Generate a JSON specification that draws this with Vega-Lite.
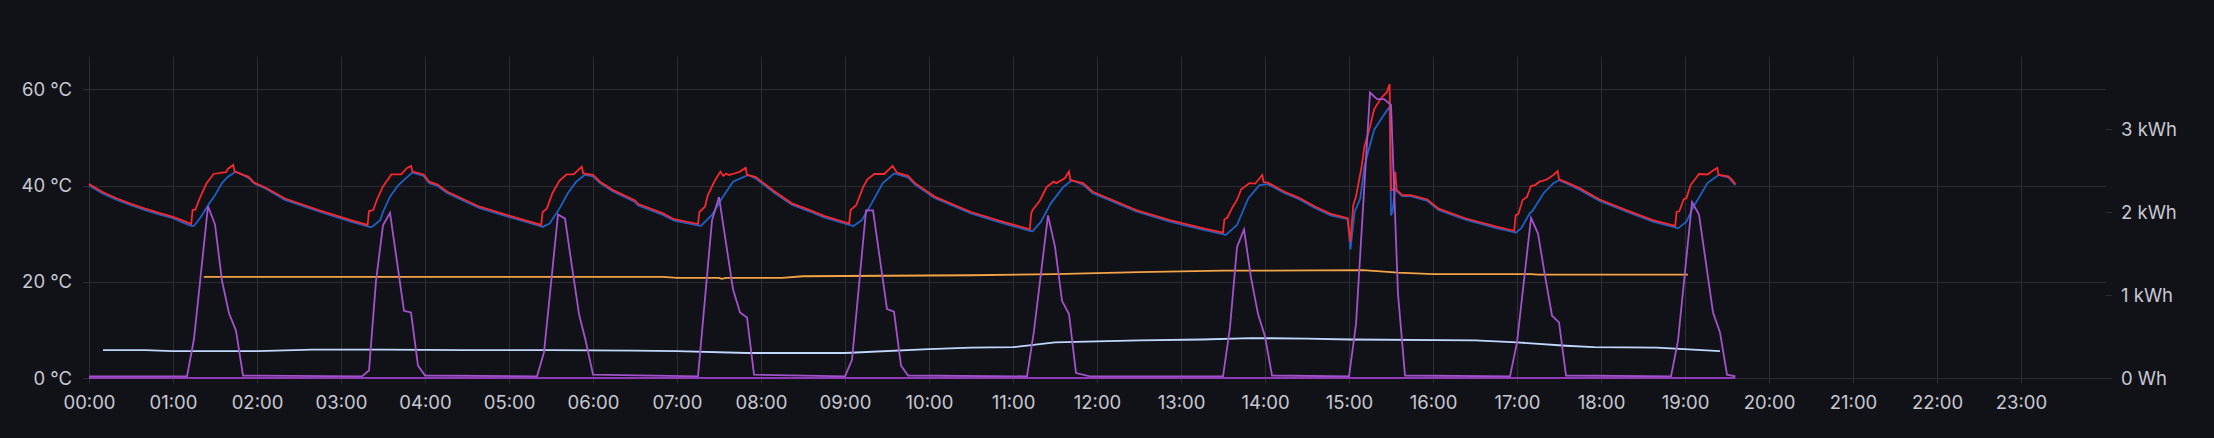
{
  "$schema": "https://vega.github.io/schema/vega-lite/v6.json",
  "width": 2016,
  "height": 322,
  "autosize": {"type": "none"},
  "padding": {"left": 89, "top": 56, "right": 109, "bottom": 60},
  "background": "#111217",
  "config": {
    "view": {"stroke": null},
    "axis": {
      "domain": false,
      "gridColor": "#2b2c31",
      "gridWidth": 1,
      "tickColor": "#2b2c31",
      "labelColor": "#c7c8d3",
      "labelFont": "Inter",
      "labelFontSize": 18.5
    },
    "axisX": {"tickSize": 5, "labelPadding": 10, "labelAngle": 0, "labelFlush": false, "labelOverlap": false, "grid": true},
    "axisLeft": {"tickSize": 6.5, "labelPadding": 11},
    "axisRight": {"tickSize": 6.5, "labelPadding": 9}
  },
  "data": {
    "values": [
      {"s":"r","t":"2024-01-01T00:00","v":40.3},{"s":"r","t":"2024-01-01T00:10","v":38.6},{"s":"r","t":"2024-01-01T00:20","v":37.3},{"s":"r","t":"2024-01-01T00:30","v":36.2},{"s":"r","t":"2024-01-01T00:40","v":35.2},{"s":"r","t":"2024-01-01T00:50","v":34.3},{"s":"r","t":"2024-01-01T01:00","v":33.5},{"s":"r","t":"2024-01-01T01:08","v":32.6},{"s":"r","t":"2024-01-01T01:13","v":32.0},{"s":"r","t":"2024-01-01T01:14","v":34.9},{"s":"r","t":"2024-01-01T01:16","v":35.0},{"s":"r","t":"2024-01-01T01:19","v":37.3},{"s":"r","t":"2024-01-01T01:24","v":40.5},{"s":"r","t":"2024-01-01T01:29","v":42.4},{"s":"r","t":"2024-01-01T01:35","v":42.7},{"s":"r","t":"2024-01-01T01:38","v":42.8},{"s":"r","t":"2024-01-01T01:39","v":43.4},{"s":"r","t":"2024-01-01T01:43","v":44.3},{"s":"r","t":"2024-01-01T01:44","v":42.9},{"s":"r","t":"2024-01-01T01:45","v":42.8},{"s":"r","t":"2024-01-01T01:54","v":41.8},{"s":"r","t":"2024-01-01T01:58","v":40.6},{"s":"r","t":"2024-01-01T02:06","v":39.6},{"s":"r","t":"2024-01-01T02:20","v":37.3},{"s":"r","t":"2024-01-01T02:44","v":34.9},{"s":"r","t":"2024-01-01T03:07","v":32.8},{"s":"r","t":"2024-01-01T03:19","v":31.8},{"s":"r","t":"2024-01-01T03:20","v":34.7},{"s":"r","t":"2024-01-01T03:23","v":34.9},{"s":"r","t":"2024-01-01T03:26","v":37.3},{"s":"r","t":"2024-01-01T03:30","v":39.8},{"s":"r","t":"2024-01-01T03:36","v":42.3},{"s":"r","t":"2024-01-01T03:43","v":42.3},{"s":"r","t":"2024-01-01T03:47","v":43.6},{"s":"r","t":"2024-01-01T03:50","v":44.1},{"s":"r","t":"2024-01-01T03:51","v":42.9},{"s":"r","t":"2024-01-01T03:59","v":42.3},{"s":"r","t":"2024-01-01T04:03","v":40.8},{"s":"r","t":"2024-01-01T04:09","v":40.2},{"s":"r","t":"2024-01-01T04:16","v":38.7},{"s":"r","t":"2024-01-01T04:39","v":35.6},{"s":"r","t":"2024-01-01T05:03","v":33.5},{"s":"r","t":"2024-01-01T05:23","v":31.8},{"s":"r","t":"2024-01-01T05:24","v":34.5},{"s":"r","t":"2024-01-01T05:27","v":35.2},{"s":"r","t":"2024-01-01T05:31","v":38.4},{"s":"r","t":"2024-01-01T05:36","v":41.0},{"s":"r","t":"2024-01-01T05:41","v":42.3},{"s":"r","t":"2024-01-01T05:46","v":42.3},{"s":"r","t":"2024-01-01T05:52","v":43.9},{"s":"r","t":"2024-01-01T05:53","v":42.5},{"s":"r","t":"2024-01-01T06:00","v":42.2},{"s":"r","t":"2024-01-01T06:05","v":40.8},{"s":"r","t":"2024-01-01T06:14","v":39.1},{"s":"r","t":"2024-01-01T06:30","v":36.9},{"s":"r","t":"2024-01-01T06:32","v":36.2},{"s":"r","t":"2024-01-01T06:50","v":34.2},{"s":"r","t":"2024-01-01T06:58","v":33.0},{"s":"r","t":"2024-01-01T07:15","v":32.0},{"s":"r","t":"2024-01-01T07:16","v":34.5},{"s":"r","t":"2024-01-01T07:20","v":35.6},{"s":"r","t":"2024-01-01T07:22","v":38.0},{"s":"r","t":"2024-01-01T07:27","v":41.0},{"s":"r","t":"2024-01-01T07:31","v":42.9},{"s":"r","t":"2024-01-01T07:33","v":42.0},{"s":"r","t":"2024-01-01T07:35","v":42.5},{"s":"r","t":"2024-01-01T07:37","v":42.2},{"s":"r","t":"2024-01-01T07:41","v":42.5},{"s":"r","t":"2024-01-01T07:45","v":42.9},{"s":"r","t":"2024-01-01T07:49","v":43.7},{"s":"r","t":"2024-01-01T07:50","v":42.2},{"s":"r","t":"2024-01-01T07:56","v":41.8},{"s":"r","t":"2024-01-01T08:10","v":38.7},{"s":"r","t":"2024-01-01T08:22","v":36.3},{"s":"r","t":"2024-01-01T08:34","v":35.0},{"s":"r","t":"2024-01-01T08:45","v":33.7},{"s":"r","t":"2024-01-01T09:03","v":32.1},{"s":"r","t":"2024-01-01T09:04","v":34.9},{"s":"r","t":"2024-01-01T09:08","v":35.9},{"s":"r","t":"2024-01-01T09:13","v":39.7},{"s":"r","t":"2024-01-01T09:16","v":41.3},{"s":"r","t":"2024-01-01T09:21","v":42.4},{"s":"r","t":"2024-01-01T09:28","v":42.4},{"s":"r","t":"2024-01-01T09:34","v":44.1},{"s":"r","t":"2024-01-01T09:37","v":42.7},{"s":"r","t":"2024-01-01T09:45","v":42.0},{"s":"r","t":"2024-01-01T09:50","v":40.5},{"s":"r","t":"2024-01-01T10:04","v":37.7},{"s":"r","t":"2024-01-01T10:30","v":34.5},{"s":"r","t":"2024-01-01T10:50","v":32.7},{"s":"r","t":"2024-01-01T11:12","v":30.9},{"s":"r","t":"2024-01-01T11:13","v":34.2},{"s":"r","t":"2024-01-01T11:14","v":34.9},{"s":"r","t":"2024-01-01T11:19","v":36.8},{"s":"r","t":"2024-01-01T11:24","v":39.7},{"s":"r","t":"2024-01-01T11:29","v":40.8},{"s":"r","t":"2024-01-01T11:31","v":40.5},{"s":"r","t":"2024-01-01T11:37","v":41.5},{"s":"r","t":"2024-01-01T11:40","v":42.9},{"s":"r","t":"2024-01-01T11:41","v":41.1},{"s":"r","t":"2024-01-01T11:50","v":40.5},{"s":"r","t":"2024-01-01T11:57","v":38.7},{"s":"r","t":"2024-01-01T12:11","v":37.0},{"s":"r","t":"2024-01-01T12:28","v":34.9},{"s":"r","t":"2024-01-01T12:52","v":32.8},{"s":"r","t":"2024-01-01T13:16","v":31.1},{"s":"r","t":"2024-01-01T13:30","v":30.2},{"s":"r","t":"2024-01-01T13:31","v":33.0},{"s":"r","t":"2024-01-01T13:33","v":33.3},{"s":"r","t":"2024-01-01T13:37","v":35.6},{"s":"r","t":"2024-01-01T13:40","v":37.0},{"s":"r","t":"2024-01-01T13:43","v":39.2},{"s":"r","t":"2024-01-01T13:49","v":40.5},{"s":"r","t":"2024-01-01T13:53","v":40.4},{"s":"r","t":"2024-01-01T13:58","v":42.2},{"s":"r","t":"2024-01-01T13:59","v":40.7},{"s":"r","t":"2024-01-01T14:02","v":40.6},{"s":"r","t":"2024-01-01T14:14","v":38.7},{"s":"r","t":"2024-01-01T14:24","v":37.5},{"s":"r","t":"2024-01-01T14:36","v":35.6},{"s":"r","t":"2024-01-01T14:47","v":34.1},{"s":"r","t":"2024-01-01T14:59","v":33.2},{"s":"r","t":"2024-01-01T15:01","v":28.3},{"s":"r","t":"2024-01-01T15:03","v":35.9},{"s":"r","t":"2024-01-01T15:05","v":37.7},{"s":"r","t":"2024-01-01T15:09","v":43.9},{"s":"r","t":"2024-01-01T15:11","v":48.1},{"s":"r","t":"2024-01-01T15:15","v":52.2},{"s":"r","t":"2024-01-01T15:18","v":55.9},{"s":"r","t":"2024-01-01T15:23","v":58.2},{"s":"r","t":"2024-01-01T15:27","v":59.4},{"s":"r","t":"2024-01-01T15:29","v":61.1},{"s":"r","t":"2024-01-01T15:30","v":39.1},{"s":"r","t":"2024-01-01T15:32","v":39.2},{"s":"r","t":"2024-01-01T15:33","v":42.9},{"s":"r","t":"2024-01-01T15:34","v":39.1},{"s":"r","t":"2024-01-01T15:38","v":38.0},{"s":"r","t":"2024-01-01T15:44","v":38.0},{"s":"r","t":"2024-01-01T15:56","v":37.1},{"s":"r","t":"2024-01-01T16:04","v":35.2},{"s":"r","t":"2024-01-01T16:23","v":33.2},{"s":"r","t":"2024-01-01T16:46","v":31.4},{"s":"r","t":"2024-01-01T16:58","v":30.6},{"s":"r","t":"2024-01-01T16:59","v":33.8},{"s":"r","t":"2024-01-01T17:01","v":34.1},{"s":"r","t":"2024-01-01T17:04","v":37.0},{"s":"r","t":"2024-01-01T17:07","v":37.6},{"s":"r","t":"2024-01-01T17:10","v":39.9},{"s":"r","t":"2024-01-01T17:13","v":40.1},{"s":"r","t":"2024-01-01T17:16","v":40.8},{"s":"r","t":"2024-01-01T17:21","v":41.2},{"s":"r","t":"2024-01-01T17:26","v":42.2},{"s":"r","t":"2024-01-01T17:29","v":43.0},{"s":"r","t":"2024-01-01T17:30","v":41.3},{"s":"r","t":"2024-01-01T17:35","v":40.7},{"s":"r","t":"2024-01-01T17:45","v":39.4},{"s":"r","t":"2024-01-01T17:59","v":37.1},{"s":"r","t":"2024-01-01T18:18","v":34.9},{"s":"r","t":"2024-01-01T18:37","v":32.8},{"s":"r","t":"2024-01-01T18:53","v":31.6},{"s":"r","t":"2024-01-01T18:54","v":34.5},{"s":"r","t":"2024-01-01T18:56","v":34.7},{"s":"r","t":"2024-01-01T18:59","v":37.1},{"s":"r","t":"2024-01-01T19:01","v":37.4},{"s":"r","t":"2024-01-01T19:04","v":40.1},{"s":"r","t":"2024-01-01T19:10","v":42.4},{"s":"r","t":"2024-01-01T19:16","v":42.3},{"s":"r","t":"2024-01-01T19:19","v":42.9},{"s":"r","t":"2024-01-01T19:23","v":43.7},{"s":"r","t":"2024-01-01T19:24","v":42.2},{"s":"r","t":"2024-01-01T19:31","v":41.9},{"s":"r","t":"2024-01-01T19:34","v":41.0},{"s":"r","t":"2024-01-01T19:36","v":40.3},
      {"s":"b","t":"2024-01-01T00:00","v":40.0},{"s":"b","t":"2024-01-01T00:10","v":38.3},{"s":"b","t":"2024-01-01T00:20","v":37.0},{"s":"b","t":"2024-01-01T00:30","v":35.9},{"s":"b","t":"2024-01-01T00:40","v":34.9},{"s":"b","t":"2024-01-01T00:50","v":34.0},{"s":"b","t":"2024-01-01T01:00","v":33.2},{"s":"b","t":"2024-01-01T01:08","v":32.2},{"s":"b","t":"2024-01-01T01:13","v":31.6},{"s":"b","t":"2024-01-01T01:15","v":31.6},{"s":"b","t":"2024-01-01T01:20","v":33.5},{"s":"b","t":"2024-01-01T01:26","v":36.3},{"s":"b","t":"2024-01-01T01:30","v":38.0},{"s":"b","t":"2024-01-01T01:35","v":40.5},{"s":"b","t":"2024-01-01T01:39","v":41.8},{"s":"b","t":"2024-01-01T01:45","v":42.9},{"s":"b","t":"2024-01-01T01:54","v":41.6},{"s":"b","t":"2024-01-01T01:58","v":40.4},{"s":"b","t":"2024-01-01T02:06","v":39.4},{"s":"b","t":"2024-01-01T02:20","v":37.0},{"s":"b","t":"2024-01-01T02:44","v":34.6},{"s":"b","t":"2024-01-01T03:07","v":32.5},{"s":"b","t":"2024-01-01T03:19","v":31.5},{"s":"b","t":"2024-01-01T03:21","v":31.3},{"s":"b","t":"2024-01-01T03:23","v":31.6},{"s":"b","t":"2024-01-01T03:28","v":32.8},{"s":"b","t":"2024-01-01T03:30","v":34.5},{"s":"b","t":"2024-01-01T03:35","v":37.7},{"s":"b","t":"2024-01-01T03:41","v":40.1},{"s":"b","t":"2024-01-01T03:47","v":41.7},{"s":"b","t":"2024-01-01T03:51","v":42.7},{"s":"b","t":"2024-01-01T03:59","v":42.0},{"s":"b","t":"2024-01-01T04:03","v":40.5},{"s":"b","t":"2024-01-01T04:09","v":39.9},{"s":"b","t":"2024-01-01T04:16","v":38.4},{"s":"b","t":"2024-01-01T04:39","v":35.3},{"s":"b","t":"2024-01-01T05:03","v":33.2},{"s":"b","t":"2024-01-01T05:23","v":31.5},{"s":"b","t":"2024-01-01T05:24","v":31.4},{"s":"b","t":"2024-01-01T05:29","v":32.1},{"s":"b","t":"2024-01-01T05:36","v":35.2},{"s":"b","t":"2024-01-01T05:42","v":38.4},{"s":"b","t":"2024-01-01T05:48","v":40.8},{"s":"b","t":"2024-01-01T05:54","v":42.2},{"s":"b","t":"2024-01-01T06:00","v":41.9},{"s":"b","t":"2024-01-01T06:05","v":40.5},{"s":"b","t":"2024-01-01T06:14","v":38.8},{"s":"b","t":"2024-01-01T06:30","v":36.6},{"s":"b","t":"2024-01-01T06:32","v":35.9},{"s":"b","t":"2024-01-01T06:50","v":33.9},{"s":"b","t":"2024-01-01T06:58","v":32.7},{"s":"b","t":"2024-01-01T07:15","v":31.7},{"s":"b","t":"2024-01-01T07:17","v":31.6},{"s":"b","t":"2024-01-01T07:25","v":33.9},{"s":"b","t":"2024-01-01T07:32","v":37.3},{"s":"b","t":"2024-01-01T07:40","v":40.8},{"s":"b","t":"2024-01-01T07:51","v":42.2},{"s":"b","t":"2024-01-01T07:56","v":41.5},{"s":"b","t":"2024-01-01T08:10","v":38.4},{"s":"b","t":"2024-01-01T08:22","v":36.0},{"s":"b","t":"2024-01-01T08:34","v":34.7},{"s":"b","t":"2024-01-01T08:45","v":33.4},{"s":"b","t":"2024-01-01T09:03","v":31.8},{"s":"b","t":"2024-01-01T09:06","v":31.6},{"s":"b","t":"2024-01-01T09:12","v":32.8},{"s":"b","t":"2024-01-01T09:19","v":36.3},{"s":"b","t":"2024-01-01T09:27","v":40.5},{"s":"b","t":"2024-01-01T09:35","v":42.5},{"s":"b","t":"2024-01-01T09:45","v":41.7},{"s":"b","t":"2024-01-01T09:50","v":40.2},{"s":"b","t":"2024-01-01T10:04","v":37.4},{"s":"b","t":"2024-01-01T10:30","v":34.2},{"s":"b","t":"2024-01-01T10:50","v":32.4},{"s":"b","t":"2024-01-01T11:12","v":30.6},{"s":"b","t":"2024-01-01T11:14","v":30.5},{"s":"b","t":"2024-01-01T11:20","v":32.5},{"s":"b","t":"2024-01-01T11:27","v":36.3},{"s":"b","t":"2024-01-01T11:36","v":39.7},{"s":"b","t":"2024-01-01T11:42","v":41.1},{"s":"b","t":"2024-01-01T11:50","v":40.2},{"s":"b","t":"2024-01-01T11:57","v":38.4},{"s":"b","t":"2024-01-01T12:11","v":36.7},{"s":"b","t":"2024-01-01T12:28","v":34.6},{"s":"b","t":"2024-01-01T12:52","v":32.5},{"s":"b","t":"2024-01-01T13:16","v":30.8},{"s":"b","t":"2024-01-01T13:30","v":29.9},{"s":"b","t":"2024-01-01T13:32","v":29.7},{"s":"b","t":"2024-01-01T13:40","v":31.8},{"s":"b","t":"2024-01-01T13:48","v":37.3},{"s":"b","t":"2024-01-01T13:56","v":40.1},{"s":"b","t":"2024-01-01T14:02","v":40.3},{"s":"b","t":"2024-01-01T14:14","v":38.4},{"s":"b","t":"2024-01-01T14:24","v":37.2},{"s":"b","t":"2024-01-01T14:36","v":35.3},{"s":"b","t":"2024-01-01T14:47","v":33.8},{"s":"b","t":"2024-01-01T14:59","v":33.0},{"s":"b","t":"2024-01-01T15:01","v":26.7},{"s":"b","t":"2024-01-01T15:04","v":34.5},{"s":"b","t":"2024-01-01T15:08","v":37.3},{"s":"b","t":"2024-01-01T15:11","v":43.9},{"s":"b","t":"2024-01-01T15:14","v":47.4},{"s":"b","t":"2024-01-01T15:18","v":51.6},{"s":"b","t":"2024-01-01T15:24","v":54.3},{"s":"b","t":"2024-01-01T15:29","v":56.4},{"s":"b","t":"2024-01-01T15:30","v":33.8},{"s":"b","t":"2024-01-01T15:31","v":34.5},{"s":"b","t":"2024-01-01T15:33","v":39.4},{"s":"b","t":"2024-01-01T15:34","v":38.9},{"s":"b","t":"2024-01-01T15:38","v":37.8},{"s":"b","t":"2024-01-01T15:44","v":37.8},{"s":"b","t":"2024-01-01T15:56","v":36.8},{"s":"b","t":"2024-01-01T16:04","v":34.9},{"s":"b","t":"2024-01-01T16:23","v":32.9},{"s":"b","t":"2024-01-01T16:46","v":31.1},{"s":"b","t":"2024-01-01T16:58","v":30.3},{"s":"b","t":"2024-01-01T16:59","v":30.2},{"s":"b","t":"2024-01-01T17:03","v":31.1},{"s":"b","t":"2024-01-01T17:09","v":34.2},{"s":"b","t":"2024-01-01T17:11","v":34.7},{"s":"b","t":"2024-01-01T17:19","v":38.4},{"s":"b","t":"2024-01-01T17:26","v":40.5},{"s":"b","t":"2024-01-01T17:30","v":41.1},{"s":"b","t":"2024-01-01T17:35","v":40.5},{"s":"b","t":"2024-01-01T17:45","v":39.1},{"s":"b","t":"2024-01-01T17:59","v":36.8},{"s":"b","t":"2024-01-01T18:18","v":34.6},{"s":"b","t":"2024-01-01T18:37","v":32.5},{"s":"b","t":"2024-01-01T18:53","v":31.3},{"s":"b","t":"2024-01-01T18:55","v":31.1},{"s":"b","t":"2024-01-01T19:01","v":32.5},{"s":"b","t":"2024-01-01T19:06","v":35.6},{"s":"b","t":"2024-01-01T19:11","v":38.0},{"s":"b","t":"2024-01-01T19:16","v":40.5},{"s":"b","t":"2024-01-01T19:24","v":42.2},{"s":"b","t":"2024-01-01T19:31","v":41.7},{"s":"b","t":"2024-01-01T19:36","v":40.1},
      {"s":"o","t":"2024-01-01T01:22","v":21.0},{"s":"o","t":"2024-01-01T06:50","v":21.0},{"s":"o","t":"2024-01-01T07:00","v":20.8},{"s":"o","t":"2024-01-01T07:30","v":20.8},{"s":"o","t":"2024-01-01T07:32","v":20.6},{"s":"o","t":"2024-01-01T07:35","v":20.8},{"s":"o","t":"2024-01-01T08:15","v":20.8},{"s":"o","t":"2024-01-01T08:30","v":21.15},{"s":"o","t":"2024-01-01T10:30","v":21.35},{"s":"o","t":"2024-01-01T11:30","v":21.6},{"s":"o","t":"2024-01-01T12:30","v":22.0},{"s":"o","t":"2024-01-01T13:30","v":22.3},{"s":"o","t":"2024-01-01T15:10","v":22.4},{"s":"o","t":"2024-01-01T15:35","v":21.9},{"s":"o","t":"2024-01-01T16:00","v":21.6},{"s":"o","t":"2024-01-01T17:10","v":21.6},{"s":"o","t":"2024-01-01T17:15","v":21.5},{"s":"o","t":"2024-01-01T19:02","v":21.5},
      {"s":"w","t":"2024-01-01T00:10","v":5.8},{"s":"w","t":"2024-01-01T00:40","v":5.8},{"s":"w","t":"2024-01-01T01:00","v":5.6},{"s":"w","t":"2024-01-01T02:00","v":5.6},{"s":"w","t":"2024-01-01T02:40","v":5.9},{"s":"w","t":"2024-01-01T03:30","v":5.9},{"s":"w","t":"2024-01-01T04:30","v":5.8},{"s":"w","t":"2024-01-01T05:30","v":5.8},{"s":"w","t":"2024-01-01T06:30","v":5.7},{"s":"w","t":"2024-01-01T07:00","v":5.6},{"s":"w","t":"2024-01-01T07:50","v":5.2},{"s":"w","t":"2024-01-01T09:00","v":5.2},{"s":"w","t":"2024-01-01T10:00","v":6.0},{"s":"w","t":"2024-01-01T10:30","v":6.3},{"s":"w","t":"2024-01-01T11:00","v":6.4},{"s":"w","t":"2024-01-01T11:30","v":7.4},{"s":"w","t":"2024-01-01T12:30","v":7.8},{"s":"w","t":"2024-01-01T13:15","v":8.0},{"s":"w","t":"2024-01-01T13:50","v":8.3},{"s":"w","t":"2024-01-01T14:30","v":8.2},{"s":"w","t":"2024-01-01T15:00","v":8.0},{"s":"w","t":"2024-01-01T16:30","v":7.8},{"s":"w","t":"2024-01-01T17:00","v":7.4},{"s":"w","t":"2024-01-01T17:35","v":6.7},{"s":"w","t":"2024-01-01T17:55","v":6.4},{"s":"w","t":"2024-01-01T18:40","v":6.3},{"s":"w","t":"2024-01-01T19:25","v":5.6},
      {"s":"q","t":"2024-01-01T00:00","v":0},{"s":"q","t":"2024-01-01T19:36","v":0},
      {"s":"p","t":"2024-01-01T00:00","v":0.02},{"s":"p","t":"2024-01-01T01:10","v":0.02},{"s":"p","t":"2024-01-01T01:15","v":0.47},{"s":"p","t":"2024-01-01T01:25","v":2.07},{"s":"p","t":"2024-01-01T01:30","v":1.85},{"s":"p","t":"2024-01-01T01:35","v":1.17},{"s":"p","t":"2024-01-01T01:40","v":0.78},{"s":"p","t":"2024-01-01T01:45","v":0.57},{"s":"p","t":"2024-01-01T01:50","v":0.03},{"s":"p","t":"2024-01-01T03:15","v":0.02},{"s":"p","t":"2024-01-01T03:20","v":0.09},{"s":"p","t":"2024-01-01T03:25","v":1.17},{"s":"p","t":"2024-01-01T03:30","v":1.84},{"s":"p","t":"2024-01-01T03:35","v":1.99},{"s":"p","t":"2024-01-01T03:45","v":0.81},{"s":"p","t":"2024-01-01T03:50","v":0.79},{"s":"p","t":"2024-01-01T03:55","v":0.15},{"s":"p","t":"2024-01-01T04:00","v":0.03},{"s":"p","t":"2024-01-01T05:20","v":0.02},{"s":"p","t":"2024-01-01T05:25","v":0.31},{"s":"p","t":"2024-01-01T05:35","v":1.97},{"s":"p","t":"2024-01-01T05:40","v":1.92},{"s":"p","t":"2024-01-01T05:45","v":1.34},{"s":"p","t":"2024-01-01T05:50","v":0.77},{"s":"p","t":"2024-01-01T05:55","v":0.43},{"s":"p","t":"2024-01-01T06:00","v":0.04},{"s":"p","t":"2024-01-01T07:15","v":0.02},{"s":"p","t":"2024-01-01T07:25","v":1.90},{"s":"p","t":"2024-01-01T07:30","v":2.18},{"s":"p","t":"2024-01-01T07:40","v":1.07},{"s":"p","t":"2024-01-01T07:45","v":0.79},{"s":"p","t":"2024-01-01T07:50","v":0.73},{"s":"p","t":"2024-01-01T07:55","v":0.04},{"s":"p","t":"2024-01-01T09:00","v":0.02},{"s":"p","t":"2024-01-01T09:05","v":0.22},{"s":"p","t":"2024-01-01T09:15","v":2.02},{"s":"p","t":"2024-01-01T09:20","v":2.02},{"s":"p","t":"2024-01-01T09:30","v":0.83},{"s":"p","t":"2024-01-01T09:35","v":0.80},{"s":"p","t":"2024-01-01T09:40","v":0.15},{"s":"p","t":"2024-01-01T09:45","v":0.03},{"s":"p","t":"2024-01-01T11:10","v":0.02},{"s":"p","t":"2024-01-01T11:15","v":0.57},{"s":"p","t":"2024-01-01T11:25","v":1.96},{"s":"p","t":"2024-01-01T11:30","v":1.58},{"s":"p","t":"2024-01-01T11:35","v":0.93},{"s":"p","t":"2024-01-01T11:40","v":0.77},{"s":"p","t":"2024-01-01T11:45","v":0.06},{"s":"p","t":"2024-01-01T11:55","v":0.02},{"s":"p","t":"2024-01-01T13:30","v":0.02},{"s":"p","t":"2024-01-01T13:35","v":0.61},{"s":"p","t":"2024-01-01T13:40","v":1.58},{"s":"p","t":"2024-01-01T13:45","v":1.79},{"s":"p","t":"2024-01-01T13:50","v":1.21},{"s":"p","t":"2024-01-01T13:55","v":0.77},{"s":"p","t":"2024-01-01T14:00","v":0.50},{"s":"p","t":"2024-01-01T14:05","v":0.03},{"s":"p","t":"2024-01-01T15:00","v":0.02},{"s":"p","t":"2024-01-01T15:05","v":0.65},{"s":"p","t":"2024-01-01T15:15","v":3.44},{"s":"p","t":"2024-01-01T15:20","v":3.36},{"s":"p","t":"2024-01-01T15:25","v":3.36},{"s":"p","t":"2024-01-01T15:30","v":3.29},{"s":"p","t":"2024-01-01T15:35","v":1.01},{"s":"p","t":"2024-01-01T15:40","v":0.03},{"s":"p","t":"2024-01-01T16:55","v":0.02},{"s":"p","t":"2024-01-01T17:00","v":0.43},{"s":"p","t":"2024-01-01T17:10","v":1.93},{"s":"p","t":"2024-01-01T17:15","v":1.74},{"s":"p","t":"2024-01-01T17:20","v":1.23},{"s":"p","t":"2024-01-01T17:25","v":0.75},{"s":"p","t":"2024-01-01T17:30","v":0.67},{"s":"p","t":"2024-01-01T17:35","v":0.03},{"s":"p","t":"2024-01-01T18:50","v":0.02},{"s":"p","t":"2024-01-01T18:55","v":0.45},{"s":"p","t":"2024-01-01T19:05","v":2.12},{"s":"p","t":"2024-01-01T19:10","v":1.97},{"s":"p","t":"2024-01-01T19:20","v":0.79},{"s":"p","t":"2024-01-01T19:25","v":0.55},{"s":"p","t":"2024-01-01T19:30","v":0.04},{"s":"p","t":"2024-01-01T19:36","v":0.02}
    ]
  },
  "layer": [
    {
      "layer": [
        {"transform": [{"filter": "datum.s == 'w'"}], "mark": {"type": "line", "color": "#C0D8FF", "strokeWidth": 1.8},
         "encoding": {
           "x": {"field": "t", "type": "temporal", "scale": {"nice": false, "domain": [{"year": 2024, "month": 1, "date": 1, "hours": 0}, {"year": 2024, "month": 1, "date": 1, "hours": 23, "minutes": 59, "seconds": 59}]},
                 "axis": {"tickCount": 24, "format": "%H:%M", "title": null}},
           "y": {"field": "v", "type": "quantitative", "scale": {"domain": [0, 66.92], "nice": false}, "axis": {"orient": "left", "values": [0, 20, 40, 60], "labelExpr": "datum.value + ' °C'", "grid": true, "title": null}}
         }},
        {"transform": [{"filter": "datum.s == 'o'"}], "mark": {"type": "line", "color": "#F5A445", "strokeWidth": 1.8},
         "encoding": {
           "x": {"field": "t", "type": "temporal"},
           "y": {"field": "v", "type": "quantitative"}
         }},
        {"transform": [{"filter": "datum.s == 'b'"}], "mark": {"type": "line", "color": "#1F60C4", "strokeWidth": 1.8},
         "encoding": {
           "x": {"field": "t", "type": "temporal"},
           "y": {"field": "v", "type": "quantitative"}
         }},
        {"transform": [{"filter": "datum.s == 'r'"}], "mark": {"type": "line", "color": "#F5282E", "strokeWidth": 1.8},
         "encoding": {
           "x": {"field": "t", "type": "temporal"},
           "y": {"field": "v", "type": "quantitative"}
         }}
      ]
    },
    {
      "layer": [
        {"transform": [{"filter": "datum.s == 'q'"}], "mark": {"type": "line", "color": "#8F3BB8", "strokeWidth": 1.8},
         "encoding": {
           "x": {"field": "t", "type": "temporal"},
           "y": {"field": "v", "type": "quantitative", "scale": {"domain": [0, 3.88], "nice": false}, "axis": {"orient": "right", "values": [0, 1, 2, 3], "labelExpr": "datum.value == 0 ? '0 Wh' : datum.value + ' kWh'", "grid": false, "title": null}}
         }},
        {"transform": [{"filter": "datum.s == 'p'"}], "mark": {"type": "line", "color": "#A352CC", "strokeWidth": 1.8},
         "encoding": {
           "x": {"field": "t", "type": "temporal"},
           "y": {"field": "v", "type": "quantitative"}
         }}
      ]
    }
  ],
  "resolve": {"scale": {"y": "independent"}}
}
